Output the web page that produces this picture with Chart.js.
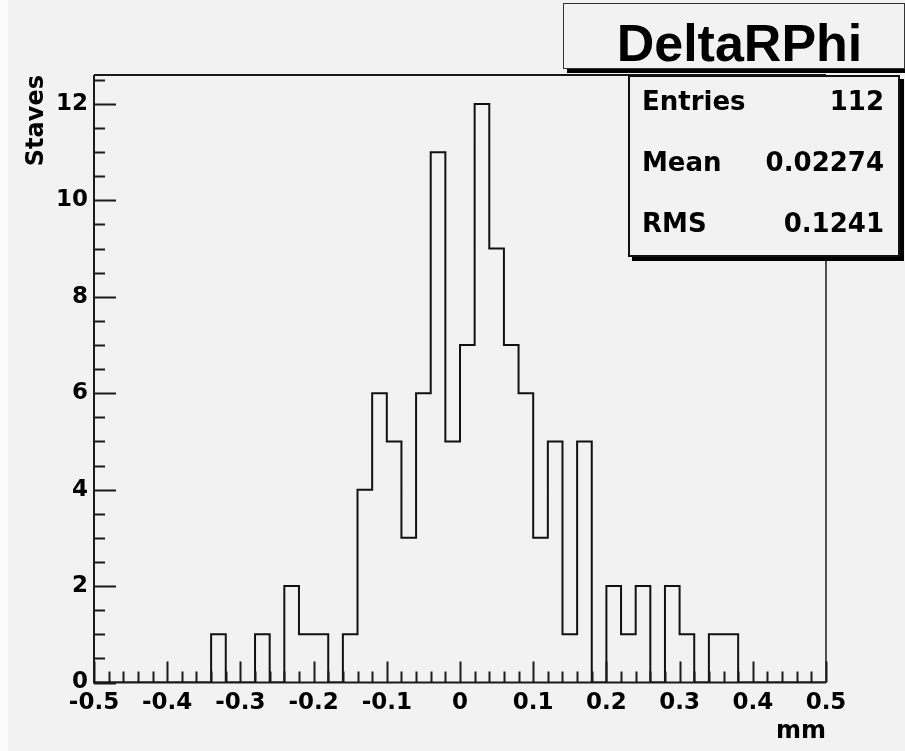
<!DOCTYPE html>
<html>
<head>
<meta charset="utf-8">
<script src="https://cdn.jsdelivr.net/npm/chart.js@4/dist/chart.umd.min.js"></script>
<style>
  body { margin: 0; background: #f2f2f2; }
  #wrap { position: relative; width: 905px; height: 751px; overflow: hidden; }
  #edge { position: absolute; left: 0; top: 0; width: 8px; height: 751px; background: #fbfbfb; }
  canvas { position: absolute; left: 0; top: 0; }
  .title-box {
    position: absolute; left: 563px; top: 3px; width: 329px; height: 64px;
    border: 1.5px solid #333; background: #f2f2f2; box-shadow: 4px 4px 0 #000;
    font: bold 52px "Liberation Sans", Arial, sans-serif; text-align: center; line-height: 78px;
    padding-left: 11px; box-sizing: content-box; white-space: nowrap;
  }
  .stats-box {
    position: absolute; left: 628px; top: 75px; width: 268px; height: 178px;
    border: 2px solid #111; background: #f2f2f2; box-shadow: 4px 4px 0 #000;
    font: bold 26px "DejaVu Sans", sans-serif;
  }
  .row { display: flex; justify-content: space-between; height: 61px; line-height: 48px; padding: 0 14px 0 12px; }
</style>
</head>
<body>
<div id="wrap">
  <div id="edge"></div>
  <canvas id="hist" width="905" height="751"></canvas>
  <div class="title-box">DeltaRPhi</div>
  <div class="stats-box" id="stats"></div>
</div>
<script>
// Histogram: 50 bins of 0.02 mm from -0.5 to 0.5
const binLow = -0.5;
const binWidth = 0.02;
const staveCounts = [
  0, 0, 0, 0, 0, 0, 0, 0, 1, 0,
  0, 1, 0, 2, 1, 1, 0, 1, 4, 6,
  5, 3, 6, 11, 5, 7, 12, 9, 7, 6,
  3, 5, 1, 5, 0, 2, 1, 2, 0, 2,
  1, 0, 1, 1, 0, 0, 0, 0, 0, 0,
];

const xTicks = [-0.5, -0.4, -0.3, -0.2, -0.1, 0, 0.1, 0.2, 0.3, 0.4, 0.5];
const yTicks = [0, 2, 4, 6, 8, 10, 12];
const statLabels = ["Entries", "Mean", "RMS"];
const statValues = ["112", "0.02274", "0.1241"];

// stats box
const statsBox = document.getElementById("stats");
statLabels.forEach((label, i) => {
  const row = document.createElement("div");
  row.className = "row";
  row.innerHTML = `<span>${label}</span><span>${statValues[i]}</span>`;
  statsBox.appendChild(row);
});

// step outline points at bin edges
const stepPoints = staveCounts.map((c, i) => ({ x: binLow + i * binWidth, y: c }));
stepPoints.push({ x: binLow + staveCounts.length * binWidth, y: staveCounts[staveCounts.length - 1] });

const tickFont = { family: "DejaVu Sans", weight: "bold", size: 23 };
const titleFont = { family: "DejaVu Sans", weight: "bold", size: 24 };

// frame + ROOT-style inside ticks
const frameTicks = {
  id: "frameTicks",
  afterDatasetsDraw(chart) {
    const { ctx, chartArea: a, scales } = chart;
    const x = scales.x, y = scales.y;
    ctx.save();
    ctx.strokeStyle = "#1a1a1a";
    ctx.lineWidth = 2;
    ctx.beginPath();
    ctx.moveTo(a.left, a.top);
    ctx.lineTo(a.right, a.top);
    ctx.moveTo(a.left, a.top);
    ctx.lineTo(a.left, a.bottom);
    ctx.lineTo(a.right, a.bottom);
    ctx.stroke();
    ctx.lineWidth = 1.5;
    ctx.beginPath();
    ctx.moveTo(a.right, a.top);
    ctx.lineTo(a.right, a.bottom);
    ctx.stroke();

    ctx.lineWidth = 2;
    ctx.beginPath();
    for (let v = -0.5; v <= 0.5001; v += 0.02) {
      const px = Math.round(x.getPixelForValue(v)) + 0.5;
      const major = Math.abs(v * 10 - Math.round(v * 10)) < 1e-6;
      ctx.moveTo(px, a.bottom);
      ctx.lineTo(px, a.bottom - (major ? 21 : 11));
    }
    for (let v = 0; v <= y.max + 1e-6; v += 0.5) {
      const py = Math.round(y.getPixelForValue(v)) + 0.5;
      const major = v % 2 === 0;
      ctx.moveTo(a.left, py);
      ctx.lineTo(a.left + (major ? 22 : 11), py);
    }
    ctx.stroke();
    ctx.restore();
  },
};

new Chart(document.getElementById("hist"), {
  type: "line",
  data: {
    datasets: [
      {
        data: stepPoints,
        stepped: "before",
        borderColor: "#111",
        borderWidth: 2,
        pointRadius: 0,
        fill: false,
      },
    ],
  },
  options: {
    responsive: false,
    animation: false,
    devicePixelRatio: 1,
    layout: { padding: { top: 75, right: 79, left: 0, bottom: 0 } },
    plugins: { legend: { display: false }, tooltip: { enabled: false } },
    scales: {
      x: {
        type: "linear",
        min: -0.5,
        max: 0.5,
        afterBuildTicks: (s) => { s.ticks = xTicks.map((v) => ({ value: v })); },
        afterFit: (s) => { s.height = 68.5; },
        grid: { display: false, drawTicks: false },
        border: { display: false },
        ticks: {
          autoSkip: false,
          maxRotation: 0,
          padding: 7,
          color: "#000",
          font: tickFont,
          callback: (v) => String(Math.round(v * 10) / 10),
        },
        title: {
          display: true,
          text: "mm",
          align: "end",
          color: "#000",
          font: titleFont,
          padding: { top: 0, bottom: 5 },
        },
      },
      y: {
        min: 0,
        max: 12.6,
        afterBuildTicks: (s) => { s.ticks = yTicks.map((v) => ({ value: v })); },
        afterFit: (s) => { s.width = 94; },
        grid: { display: false, drawTicks: false },
        border: { display: false },
        ticks: { padding: 6, color: "#000", font: tickFont },
        title: {
          display: true,
          text: "Staves",
          align: "end",
          color: "#000",
          font: titleFont,
          padding: { top: 22, bottom: 0 },
        },
      },
    },
  },
  plugins: [frameTicks],
});
</script>
</body>
</html>
